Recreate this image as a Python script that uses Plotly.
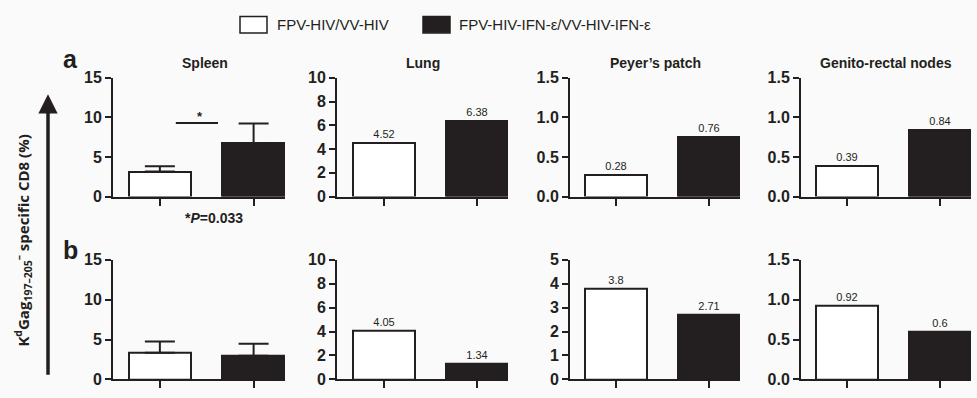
import plotly.graph_objects as go

# ---------------- data ----------------
groups = ["FPV-HIV/VV-HIV", "FPV-HIV-IFN-ε/VV-HIV-IFN-ε"]
tissues = ["Spleen", "Lung", "Peyer’s patch", "Genito-rectal nodes"]

a_control = [3.16, 4.52, 0.28, 0.39]
a_ifn = [6.76, 6.38, 0.76, 0.84]
b_control = [3.36, 4.05, 3.8, 0.92]
b_ifn = [2.96, 1.34, 2.71, 0.6]

# upper error (spleen only)
a_spleen_err = [0.68, 2.48]
b_spleen_err = [1.40, 1.52]

a_ymax = [15, 10, 1.5, 1.5]
a_dtick = [5, 2, 0.5, 0.5]
b_ymax = [15, 10, 5, 1.5]
b_dtick = [5, 2, 1, 0.5]

sig_y = 9.3
p_text = "<b>*<i>P</i>=0.033</b>"
ylabel = "K<sup>d</sup>Gag<sub>197–205</sub><sup>–</sup> specific CD8 (%)"

# ---------------- layout helpers ----------------
W, H = 977, 398
INK = "#231f20"
FONT = "Liberation Sans, Arial"
x_px = [(113, 285), (337, 508), (570, 740), (801, 971)]
row_px = [(73, 197), (263, 388)]

def px_x(p):
    return p / W

def px_y(p):
    return 1 - p / H

fig = go.Figure()

rows = [
    (a_control, a_ifn, a_spleen_err, a_ymax, a_dtick),
    (b_control, b_ifn, b_spleen_err, b_ymax, b_dtick),
]

layout = {}
for r, (ctrl, ifn, sp_err, ymax, dtick) in enumerate(rows):
    for c in range(4):
        k = r * 4 + c + 1
        xa = "x" if k == 1 else f"x{k}"
        ya = "y" if k == 1 else f"y{k}"
        vals = [ctrl[c], ifn[c]]
        kw = {}
        if c == 0:
            kw["error_y"] = dict(type="data", symmetric=False, array=sp_err,
                                 arrayminus=[0, 0], color=INK, thickness=2, width=15)
        else:
            kw["text"] = [f"{v:g}" for v in vals]
            kw["textposition"] = "outside"
            kw["textfont"] = dict(family=FONT, size=11, color=INK)
            kw["cliponaxis"] = False
        fig.add_trace(go.Bar(
            x=[0, 1], y=vals, width=0.667,
            marker=dict(color=["white", INK], line=dict(color=INK, width=2)),
            xaxis=xa, yaxis=ya, showlegend=False, hoverinfo="y", **kw))
        x0, x1 = x_px[c]
        top, bot = row_px[r]
        fmt = ".1f" if dtick[c] < 1 else "d"
        layout["xaxis" if k == 1 else f"xaxis{k}"] = dict(
            domain=[px_x(x0), px_x(x1)], anchor=ya, range=[-0.5, 1.335],
            showline=True, linewidth=2, linecolor=INK, showgrid=False, zeroline=False,
            ticks="outside", tickvals=[0, 1], ticklen=7, tickwidth=2, tickcolor=INK,
            showticklabels=False, fixedrange=True)
        layout["yaxis" if k == 1 else f"yaxis{k}"] = dict(
            domain=[px_y(bot), px_y(top)], anchor=xa, range=[0, ymax[c]],
            dtick=dtick[c], tick0=0, tickformat=fmt,
            showline=True, linewidth=2, linecolor=INK, showgrid=False, zeroline=False,
            ticks="outside", ticklen=6, tickwidth=2, tickcolor=INK,
            tickfont=dict(family=FONT, size=16, color=INK, weight="bold"),
            fixedrange=True)

def note(text, x, y, size, xanchor="center", **extra):
    d = dict(text=text, x=x, y=y, xref="paper", yref="paper", showarrow=False,
             xanchor=xanchor, yanchor="middle",
             font=dict(family=FONT, size=size, color=INK))
    d.update(extra)
    return d

annotations = []
# panel titles
for c, name in enumerate(tissues):
    x0, x1 = x_px[c]
    cx = (x0 + x1) / 2 + (6 if c == 0 else 0)
    annotations.append(note(f"<b>{name}</b>", px_x(cx), px_y(57), 14))
# panel letters
for letter, yp in [("a", 53), ("b", 253)]:
    annotations.append(note(f"<b>{letter}</b>", px_x(70), px_y(yp), 25))
# p-value text
annotations.append(note(p_text, px_x(214), px_y(219), 14))
# significance star
annotations.append(dict(text="<b>*</b>", x=0.43, y=sig_y, xref="x", yref="y",
                        xanchor="center", yanchor="bottom", showarrow=False, yshift=-3,
                        font=dict(family=FONT, size=13, color=INK)))
# y label
annotations.append(dict(text=f"<b>{ylabel}</b>", x=px_x(23), y=px_y(243), xref="paper",
                        yref="paper", textangle=-90, showarrow=False,
                        xanchor="center", yanchor="middle",
                        font=dict(family="Open Sans", size=15, color=INK)))
# arrow
annotations.append(dict(text="", x=px_x(48), y=px_y(90), xref="paper", yref="paper",
                        showarrow=True, ax=0, ay=282, arrowhead=2, arrowsize=1.1,
                        arrowwidth=3.5, arrowcolor=INK))
# legend texts
annotations.append(note(groups[0], px_x(275), px_y(17), 15, xanchor="left"))
annotations.append(note(groups[1], px_x(457), px_y(17), 15, xanchor="left"))

shapes = [
    dict(type="line", xref="x", yref="y", x0=0.17, x1=0.62, y0=sig_y, y1=sig_y,
         line=dict(color=INK, width=2)),
    dict(type="rect", xref="paper", yref="paper", x0=px_x(240), x1=px_x(267),
         y0=px_y(26), y1=px_y(9), fillcolor="white", line=dict(color=INK, width=1.5)),
    dict(type="rect", xref="paper", yref="paper", x0=px_x(423), x1=px_x(450),
         y0=px_y(26), y1=px_y(9), fillcolor=INK, line=dict(color=INK, width=1.5)),
]

fig.update_layout(
    width=W, height=H, margin=dict(l=0, r=0, t=0, b=0), autosize=False,
    paper_bgcolor="#fafafa", plot_bgcolor="rgba(0,0,0,0)",
    annotations=annotations, shapes=shapes, bargap=0, **layout)

fig.write_html("out.html", config={"displayModeBar": False},
               post_script="document.body.style.margin='0';document.body.style.overflow='hidden';")
